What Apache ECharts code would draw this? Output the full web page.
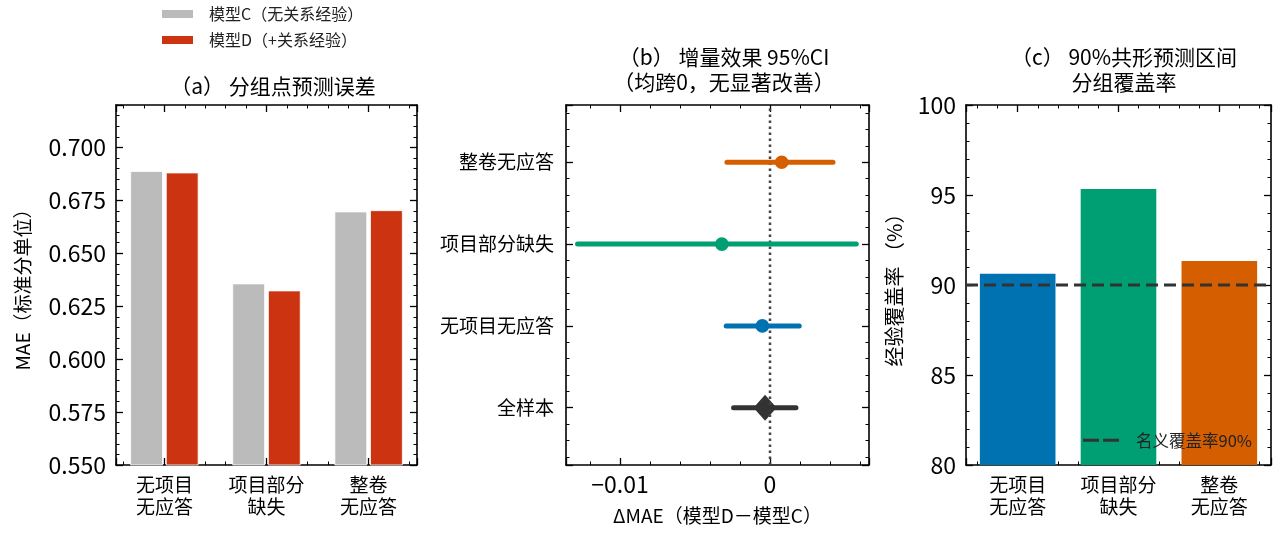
<!DOCTYPE html>
<html>
<head>
<meta charset="utf-8">
<title>关系经验 MAE 对比</title>
<script src="https://cdn.jsdelivr.net/npm/echarts@6/dist/echarts.min.js"></script>
<style>
    html, body { margin: 0; padding: 0; background: #fff; }
    #main { width: 1280px; height: 535px; }
</style>
</head>
<body>
<div id="main"></div>
<script type="text/javascript">
    // groups shared by panels (a) and (c)
    var groups = ['无项目\n无应答', '项目部分\n缺失', '整卷\n无应答'];
    var nameC = '模型C（无关系经验）';
    var nameD = '模型D（+关系经验）';
    var maeC = [0.6888, 0.6357, 0.6697];
    var maeD = [0.6881, 0.6324, 0.6703];

    // panel (b), listed bottom to top
    var forestRows = ['全样本', '无项目无应答', '项目部分缺失', '整卷无应答'];
    var deltaMid = [-0.00033, -0.00051, -0.00321, 0.00078];
    var deltaLo = [-0.00243, -0.00292, -0.01283, -0.00287];
    var deltaHi = [0.00173, 0.00195, 0.00575, 0.00420];
    var forestColors = ['#333333', '#0072B2', '#009E73', '#D55E00'];

    // panel (c)
    var coverage = [90.63, 95.33, 91.33];
    var coverColors = ['#0072B2', '#009E73', '#D55E00'];
    var nominal = 90;
    var nominalName = '名义覆盖率90%';

    var FONT = '"Noto Sans CJK SC", "DejaVu Sans", sans-serif';

    // axis that only draws the frame line and inward ticks
    function frameAxis(extra) {
        var base = {
            type: 'value',
            axisLine: {show: true, onZero: false, lineStyle: {color: '#000', width: 1.6}},
            axisTick: {show: true, inside: true, length: 7, lineStyle: {color: '#000', width: 1.3}},
            minorTick: {show: true, splitNumber: 5, length: 3.5, lineStyle: {color: '#000', width: 1}},
            splitLine: {show: false},
            minorSplitLine: {show: false},
            axisLabel: {show: false}
        };
        return Object.assign(base, extra);
    }

    function isStep(v, step) {
        var k = v / step;
        return Math.abs(k - Math.round(k)) < 1e-6;
    }

    function groupLabel(v) {
        var i = Math.round(v);
        return (Math.abs(v - i) < 1e-6 && groups[i]) ? groups[i] : '';
    }

    var catLabel = {show: true, inside: false, margin: 9, fontSize: 19, lineHeight: 22, color: '#000', fontFamily: FONT, formatter: groupLabel};
    var numLabel = {show: true, inside: false, margin: 10, fontSize: 23, color: '#000', fontFamily: FONT};
    var titleText = {fontSize: 21, fontWeight: 'normal', color: '#000', lineHeight: 25, fontFamily: FONT};
    var nameText = {fontSize: 19, color: '#000', fontFamily: FONT};

    var chart = echarts.init(document.getElementById('main'));

    var series = [
        {
            name: nameC, type: 'bar', xAxisIndex: 0, yAxisIndex: 0,
            barWidth: '32%', barGap: '9%',
            itemStyle: {color: '#BBBBBB', borderColor: '#fff', borderWidth: 0.8},
            data: maeC.map(function (v, i) { return [i, v]; })
        },
        {
            name: nameD, type: 'bar', xAxisIndex: 0, yAxisIndex: 0,
            barWidth: '32%', barGap: '9%',
            itemStyle: {color: '#CC3311', borderColor: '#fff', borderWidth: 0.8},
            data: maeD.map(function (v, i) { return [i, v]; })
        },
        {
            type: 'line', xAxisIndex: 2, yAxisIndex: 2, symbol: 'none', silent: true,
            lineStyle: {color: '#444', width: 2.5, type: [2.5, 3.5]},
            data: [[0, -0.7], [0, 3.7]]
        }
    ];

    forestRows.forEach(function (row, i) {
        series.push({
            type: 'line', xAxisIndex: 2, yAxisIndex: 2, symbol: 'none', silent: true,
            lineStyle: {color: forestColors[i], width: 5, cap: 'round'},
            data: [[deltaLo[i], i], [deltaHi[i], i]]
        });
        series.push({
            type: 'scatter', xAxisIndex: 2, yAxisIndex: 2, silent: true,
            symbol: i === 0 ? 'diamond' : 'circle',
            symbolSize: i === 0 ? [23, 26] : 15,
            itemStyle: {color: forestColors[i], borderColor: '#fff', borderWidth: i === 0 ? 0 : 1.3, opacity: 1},
            data: [[deltaMid[i], i]]
        });
    });

    series.push({
        type: 'bar', xAxisIndex: 4, yAxisIndex: 4, barWidth: '75%',
        data: coverage.map(function (v, i) {
            return {value: [i, v], itemStyle: {color: coverColors[i]}};
        })
    });
    series.push({
        name: nominalName, type: 'line', xAxisIndex: 4, yAxisIndex: 4, symbol: 'none',
        itemStyle: {color: '#333'},
        lineStyle: {color: '#333', width: 3, type: [12, 6]},
        data: [[-0.5125, nominal], [2.5125, nominal]]
    });

    var option = {
        animation: false,
        textStyle: {fontFamily: FONT},
        title: [
            {text: '（a） 分组点预测误差', left: 268, top: 69, textAlign: 'center', textStyle: titleText},
            {text: '（b） 增量效果 95%CI\n（均跨0，无显著改善）', left: 719, top: 40, textAlign: 'center', textStyle: titleText},
            {text: '（c） 90%共形预测区间\n分组覆盖率', left: 1119, top: 40, textAlign: 'center', textStyle: titleText}
        ],
        legend: [
            {
                data: [nameC, nameD], orient: 'vertical', left: 160, top: 6, padding: 0,
                icon: 'rect', itemWidth: 33, itemHeight: 10, itemGap: 10,
                textStyle: {fontSize: 16, color: '#222', fontFamily: FONT, padding: [0, 0, 0, 10]}
            },
            {
                data: [{name: nominalName, icon: 'path://M0,0H16V3H0Z M20,0H36V3H20Z'}],
                left: 1083, top: 432, padding: 0,
                itemWidth: 36, itemHeight: 3,
                textStyle: {fontSize: 16.5, color: '#222', fontFamily: FONT, padding: [0, 0, 0, 12]}
            }
        ],
        grid: [
            {left: 116, top: 105, width: 301, height: 360},
            {left: 566, top: 105, width: 303, height: 360},
            {left: 966, top: 105, width: 305, height: 360}
        ],
        xAxis: [
            frameAxis({gridIndex: 0, position: 'bottom', min: -0.474, max: 2.474, minInterval: 1, maxInterval: 1, axisLabel: catLabel}),
            frameAxis({gridIndex: 0, position: 'top', min: -0.474, max: 2.474, minInterval: 1, maxInterval: 1}),
            frameAxis({
                gridIndex: 1, position: 'bottom', min: -0.0136, max: 0.0066, minInterval: 0.01, maxInterval: 0.01,
                axisLabel: Object.assign({}, numLabel, {margin: 8, formatter: function (v) {
                    if (!isStep(v, 0.01)) return '';
                    return Math.abs(v) < 1e-9 ? '0' : '\u2212' + Math.abs(v).toFixed(2);
                }}),
                name: 'ΔMAE（模型D－模型C）', nameLocation: 'middle', nameGap: 41, nameTextStyle: nameText
            }),
            frameAxis({gridIndex: 1, position: 'top', min: -0.0136, max: 0.0066, minInterval: 0.01, maxInterval: 0.01}),
            frameAxis({gridIndex: 2, position: 'bottom', min: -0.5125, max: 2.5125, minInterval: 1, maxInterval: 1, axisLabel: catLabel}),
            frameAxis({gridIndex: 2, position: 'top', min: -0.5125, max: 2.5125, minInterval: 1, maxInterval: 1})
        ],
        yAxis: [
            frameAxis({
                gridIndex: 0, position: 'left', min: 0.55, max: 0.72, minInterval: 0.025, maxInterval: 0.025,
                axisLabel: Object.assign({}, numLabel, {formatter: function (v) {
                    return isStep(v, 0.025) ? v.toFixed(3) : '';
                }}),
                name: 'MAE（标准分单位）', nameLocation: 'middle', nameRotate: 90, nameGap: 84, nameTextStyle: nameText
            }),
            frameAxis({gridIndex: 0, position: 'right', min: 0.55, max: 0.72, minInterval: 0.025, maxInterval: 0.025}),
            frameAxis({
                gridIndex: 1, position: 'left', min: -0.7, max: 3.7, minInterval: 1, maxInterval: 1,
                axisLabel: {show: true, margin: 12, fontSize: 19, color: '#000', fontFamily: FONT, formatter: function (v) {
                    var i = Math.round(v);
                    return (Math.abs(v - i) < 1e-6 && forestRows[i]) ? forestRows[i] : '';
                }}
            }),
            frameAxis({gridIndex: 1, position: 'right', min: -0.7, max: 3.7, minInterval: 1, maxInterval: 1}),
            frameAxis({
                gridIndex: 2, position: 'left', min: 80, max: 100, minInterval: 5, maxInterval: 5,
                axisLabel: numLabel,
                name: '经验覆盖率 （%）', nameLocation: 'middle', nameRotate: 90, nameGap: 62,
                nameTextStyle: {fontSize: 20, color: '#000', fontFamily: FONT}
            }),
            frameAxis({gridIndex: 2, position: 'right', min: 80, max: 100, minInterval: 5, maxInterval: 5})
        ],
        series: series
    };

    chart.setOption(option);
</script>
</body>
</html>
